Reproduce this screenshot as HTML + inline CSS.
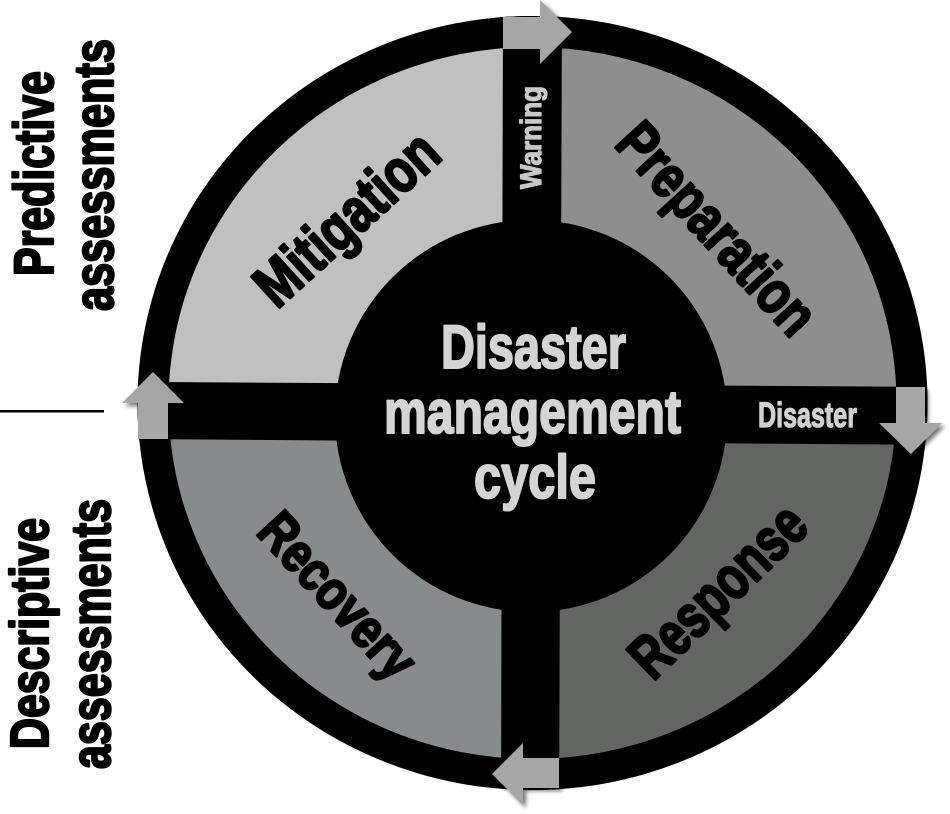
<!DOCTYPE html>
<html>
<head>
<meta charset="utf-8">
<style>
  html, body { margin: 0; padding: 0; background: #fff; }
  svg { display: block; }
  text { font-family: "Liberation Sans", "DejaVu Sans", sans-serif; font-weight: bold; stroke-linejoin: round; }
</style>
</head>
<body>
<svg width="950" height="814" viewBox="0 0 950 814" xmlns="http://www.w3.org/2000/svg">
  <defs>
    <clipPath id="inner"><ellipse cx="532.5" cy="403" rx="364" ry="356"/></clipPath>
    <clipPath id="outer"><ellipse cx="532.5" cy="403" rx="395" ry="387"/></clipPath>
    <filter id="sh" x="-40%" y="-40%" width="180%" height="180%">
      <feDropShadow dx="3" dy="3" stdDeviation="2" flood-color="#000" flood-opacity="0.55"/>
    </filter>
  </defs>

  <rect x="0" y="0" width="950" height="814" fill="#fff"/>

  <!-- outer black ring -->
  <ellipse cx="532.5" cy="403" rx="395" ry="387" fill="#000"/>

  <!-- quadrants -->
  <g clip-path="url(#inner)">
    <rect x="0" y="0" width="531" height="413" fill="#c0c0c0"/>
    <rect x="531" y="0" width="419" height="413" fill="#8e8e8e"/>
    <rect x="0" y="413" width="531" height="401" fill="#878b8b"/>
    <rect x="531" y="413" width="419" height="401" fill="#636563"/>
  </g>

  <!-- black cross bands -->
  <g clip-path="url(#outer)" fill="#000">
    <polygon points="503,0 562,0 559,814 501,814"/>
    <polygon points="0,381 950,387 950,445 0,438"/>
  </g>

  <!-- center circle -->
  <circle cx="531" cy="416" r="196" fill="#000"/>

  <!-- arrows -->
  <g fill="#a6a6a6" filter="url(#sh)">
    <polygon points="503,17 540,17 540,0 572,32 540,64 540,49 503,49"/>
    <polygon points="896,387 925,387 925,423 942,423 911,454 879,423 896,423"/>
    <polygon points="559,758 559,788 523,788 523,805 492,774 523,743 523,758"/>
    <polygon points="138,439 138,403 122,403 153,372 184,403 168,403 168,439"/>
  </g>

  <!-- center text -->
  <g fill="#d4d4d4" stroke="#d4d4d4" stroke-width="2">
    <text x="441" y="368" font-size="61" textLength="185" lengthAdjust="spacingAndGlyphs">Disaster</text>
    <text x="384" y="433" font-size="61" textLength="297" lengthAdjust="spacingAndGlyphs">management</text>
    <text x="474" y="498" font-size="61" textLength="122" lengthAdjust="spacingAndGlyphs">cycle</text>
  </g>

  <!-- band labels -->
  <text x="758" y="427" font-size="35" fill="#d0d0d0" stroke="#d0d0d0" stroke-width="1.2" textLength="99" lengthAdjust="spacingAndGlyphs">Disaster</text>
  <text transform="translate(541,189) rotate(-90)" x="0" y="0" font-size="30" fill="#c8c8c8" stroke="#c8c8c8" stroke-width="1.2" textLength="103" lengthAdjust="spacingAndGlyphs">Warning</text>

  <!-- quadrant labels -->
  <g fill="#000" stroke="#000" stroke-width="2.6">
    <text transform="translate(277,310) rotate(-42.3)" x="0" y="0" font-size="61" textLength="226" lengthAdjust="spacingAndGlyphs">Mitigation</text>
    <text transform="translate(613,145) rotate(47.5)" x="0" y="0" font-size="60" textLength="264" lengthAdjust="spacingAndGlyphs">Preparation</text>
    <text transform="translate(255,533) rotate(47.4)" x="0" y="0" font-size="55" textLength="204" lengthAdjust="spacingAndGlyphs">Recovery</text>
    <text transform="translate(653,682) rotate(-44)" x="0" y="0" font-size="61" textLength="220" lengthAdjust="spacingAndGlyphs">Response</text>
  </g>

  <!-- left side labels -->
  <g fill="#000" stroke="#000" stroke-width="2.4">
    <text transform="translate(53,276) rotate(-90)" x="0" y="0" font-size="56" textLength="205" lengthAdjust="spacingAndGlyphs">Predictive</text>
    <text transform="translate(113,311) rotate(-90)" x="0" y="0" font-size="56" textLength="272" lengthAdjust="spacingAndGlyphs">assessments</text>
    <text transform="translate(48,749) rotate(-90)" x="0" y="0" font-size="54" textLength="231" lengthAdjust="spacingAndGlyphs">Descriptive</text>
    <text transform="translate(110,769) rotate(-90)" x="0" y="0" font-size="56" textLength="270" lengthAdjust="spacingAndGlyphs">assessments</text>
  </g>

  <!-- separator line -->
  <rect x="0" y="410" width="104" height="2.5" fill="#000"/>
</svg>
</body>
</html>
